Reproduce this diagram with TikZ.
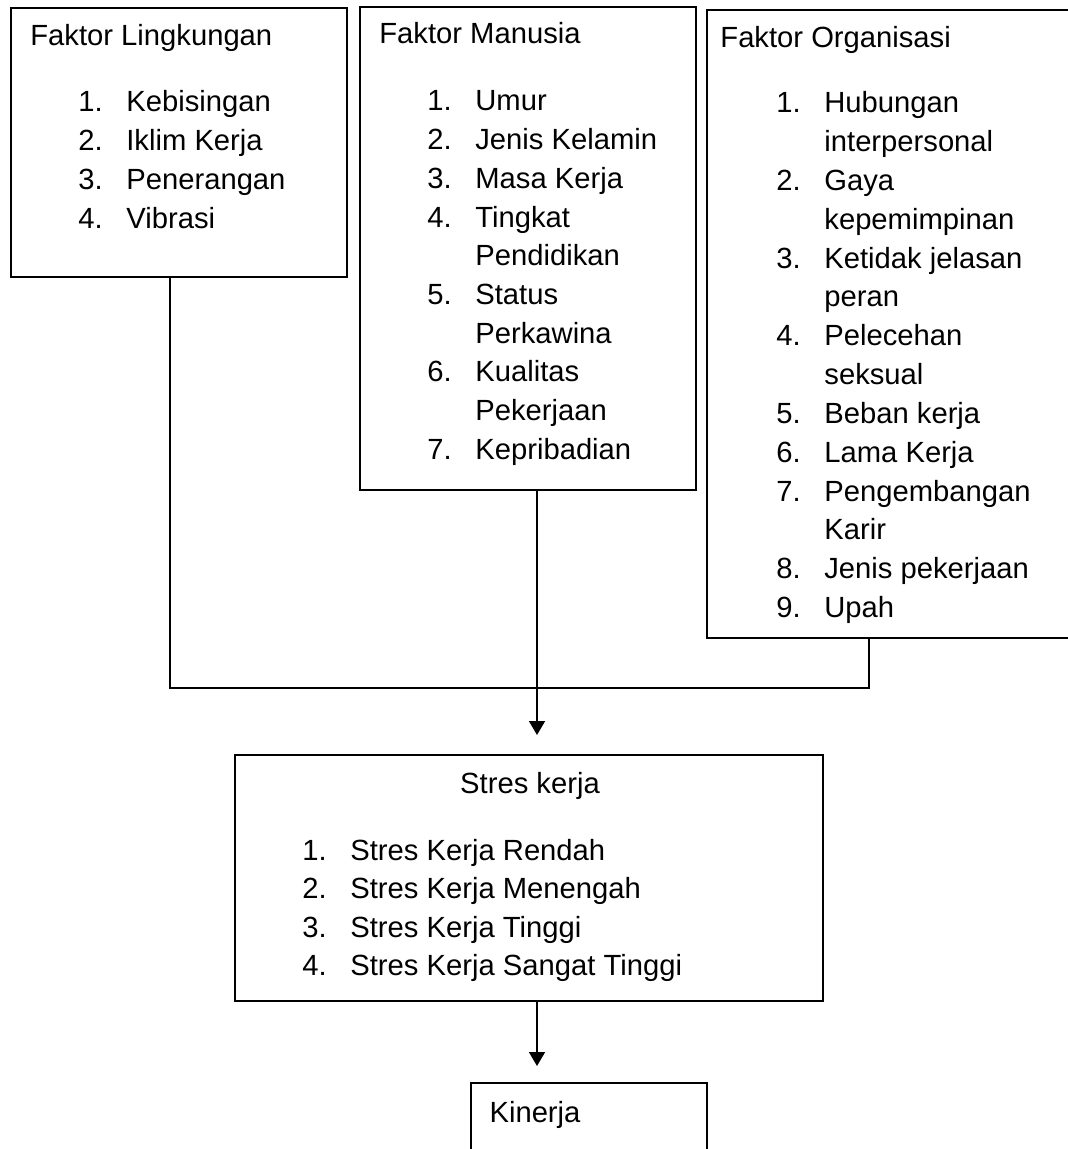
\documentclass[tikz,border=0pt]{standalone}
\usepackage{fontspec}
\setmainfont{Liberation Sans}
\usetikzlibrary{arrows.meta}
\newcommand{\huruf}{\fontsize{14.6pt}{18pt}\selectfont}

\begin{document}
\begin{tikzpicture}[
    x=0.5pt, y=-0.5pt,
    kotak/.style={rectangle, draw=black, line width=1pt, inner sep=0pt},
    judul/.style={anchor=base west, inner sep=0pt, font=\huruf},
    tengah/.style={anchor=base, inner sep=0pt, font=\huruf},
    butir/.style={anchor=base west, inner sep=0pt, font=\huruf},
    garis/.style={draw=black, line width=0.8pt},
    panah/.style={-{Triangle[length=7pt, width=8pt]}, line width=0.8pt}
  ]
  \clip (0,0) rectangle (1068,1149);

  % Faktor penyebab
  \node[kotak, minimum width=168pt, minimum height=134.5pt] (lingkungan) at (179,142.5) {};
  \node[kotak, minimum width=168pt, minimum height=241.5pt] (manusia) at (528,248.5) {};
  \node[kotak, minimum width=186.5pt, minimum height=314pt] (organisasi) at (893.5,324) {};

  \node[judul] (j-lingkungan) at (30,46) {Faktor Lingkungan};
  \node[judul] (j-manusia) at (379,44) {Faktor Manusia};
  \node[judul] (j-organisasi) at (720,48) {Faktor Organisasi};

  \foreach \no/\isi [count=\i from 0] in {1./Kebisingan, 2./Iklim Kerja, 3./Penerangan, 4./Vibrasi}
    \node[butir] (l-\i) at (78,112+38.7*\i) {\makebox[24pt][l]{\no}\isi};

  \foreach \no/\isi [count=\i from 0] in {1./Umur, 2./Jenis Kelamin, 3./Masa Kerja, 4./Tingkat, /Pendidikan,
      5./Status, /Perkawina, 6./Kualitas, /Pekerjaan, 7./Kepribadian}
    \node[butir] (m-\i) at (427,111+38.7*\i) {\makebox[24pt][l]{\no}\isi};

  \foreach \no/\isi [count=\i from 0] in {1./Hubungan, /interpersonal, 2./Gaya, /kepemimpinan,
      3./Ketidak jelasan, /peran, 4./Pelecehan, /seksual, 5./Beban kerja, 6./Lama Kerja,
      7./Pengembangan, /Karir, 8./Jenis pekerjaan, 9./Upah}
    \node[butir] (o-\i) at (776,113+38.8*\i) {\makebox[24pt][l]{\no}\isi};

  % Stres kerja
  \node[kotak, minimum width=294pt, minimum height=123pt] (stres) at (529,878) {};
  \node[tengah] (j-stres) at (530,793) {Stres kerja};
  \foreach \no/\isi [count=\i from 0] in {1./Stres Kerja Rendah, 2./Stres Kerja Menengah,
      3./Stres Kerja Tinggi, 4./Stres Kerja Sangat Tinggi}
    \node[butir] (s-\i) at (302,860+38.5*\i) {\makebox[24pt][l]{\no}\isi};

  % Kinerja
  \node[kotak, minimum width=118pt, minimum height=58.5pt] (kinerja) at (589,1141.5) {};
  \node[tengah] (j-kinerja) at (535,1122) {Kinerja};

  % Hubungan
  \coordinate (kiri) at (170,688);
  \coordinate (kanan) at (869,688);
  \coordinate (ujung1) at (537,735);
  \coordinate (ujung2) at (537,1066);
  \draw[garis] (lingkungan.south -| kiri) -- (kiri) -- (kanan) -- (organisasi.south -| kanan);
  \draw[panah] (manusia.south -| ujung1) -- (ujung1);
  \draw[panah] (stres.south -| ujung2) -- (ujung2);
\end{tikzpicture}
\end{document}
